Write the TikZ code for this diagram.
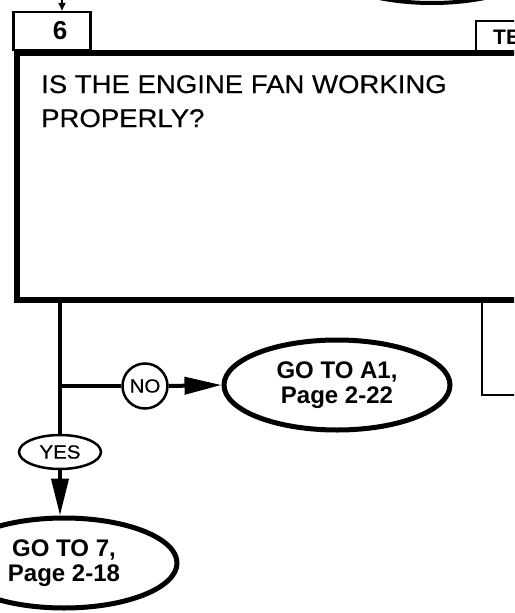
\documentclass[tikz,border=0pt]{standalone}
\usepackage{fontspec}
\setmainfont{Liberation Sans}
\newfontfamily\qfont[FakeStretch=1.08,FakeBold=0.4]{Liberation Sans}
\usetikzlibrary{shapes.geometric,arrows.meta}
\begin{document}
\begin{tikzpicture}[x=1pt,y=-1pt,
  thickbox/.style={draw,line width=6pt,rectangle,inner sep=0pt},
  tabbox/.style={draw,line width=2.5pt,rectangle,inner sep=0pt},
  tabtext/.style={inner sep=0pt,font=\fontsize{26}{26}\selectfont\bfseries},
  goal/.style={draw,ellipse,line width=5pt,inner sep=0pt,minimum width=226pt,minimum height=90pt,align=center,font=\fontsize{24}{24.5}\selectfont\bfseries},
  answer/.style={draw,line width=2.5pt,inner sep=0pt,font=\qfont\fontsize{19}{19}\selectfont},
  conn/.style={line width=4pt},
  thin conn/.style={line width=2.5pt},
  arr/.style={conn,-{Triangle[length=37pt,width=17pt]}},
]
\useasboundingbox (0,0) rectangle (514,613);
\clip (0,0) rectangle (514,613);
\fill[white] (0,0) rectangle (514,613);

% top-right cut-off terminal
\node[draw,ellipse,line width=4pt,minimum width=230pt,minimum height=90pt] (topgoal) at (432,-42) {};

% step tab and main question box
\node[tabbox,minimum width=77pt,minimum height=38pt] (b6) at (52,31) {};
\node[tabtext,anchor=base] (b6t) at (60,39) {6};
\node[tabbox,minimum width=90pt,minimum height=32pt] (te) at (521,37) {};
\node[tabtext,anchor=base west,font=\fontsize{21}{21}\selectfont\bfseries] (tet) at (493,44) {TE};
\node[thickbox,minimum width=983pt,minimum height=247pt] (q) at (508.5,176.5) {};
\node[anchor=north west,inner sep=0pt,align=left,font=\qfont\fontsize{25.5}{34}\selectfont] (qt) at (41,75) {IS THE ENGINE FAN WORKING\\PROPERLY?};

% incoming arrow
\coordinate (in6) at (62,-5);
\draw[line width=2pt,-{Triangle[length=8pt,width=7pt]}] (in6) -- (in6 |- b6.north);

% answers and terminals
\node[answer,ellipse,minimum width=82pt,minimum height=34pt] (yes) at (60,452) {YES};
\node[answer,circle,minimum size=45pt] (no) at (145,386) {NO};
\node[goal] (go7) at (64,563) {GO TO 7,\\Page 2-18};
\node[goal] (goa1) at (337,385) {GO TO A1,\\Page 2-22};

% connectors
\coordinate (j) at (60,386);
\draw[conn] (q.south -| yes) -- (yes.north);
\draw[conn] (j) -- (no.west);
\draw[arr] (no.east) -- (goa1.west);
\draw[arr] (yes.south) -- (yes.south |- go7.north);

\coordinate (rx) at (482,0);
\coordinate (rt) at (530,395);
\draw[thin conn] (q.south -| rx) |- (rt);
\end{tikzpicture}
\end{document}
